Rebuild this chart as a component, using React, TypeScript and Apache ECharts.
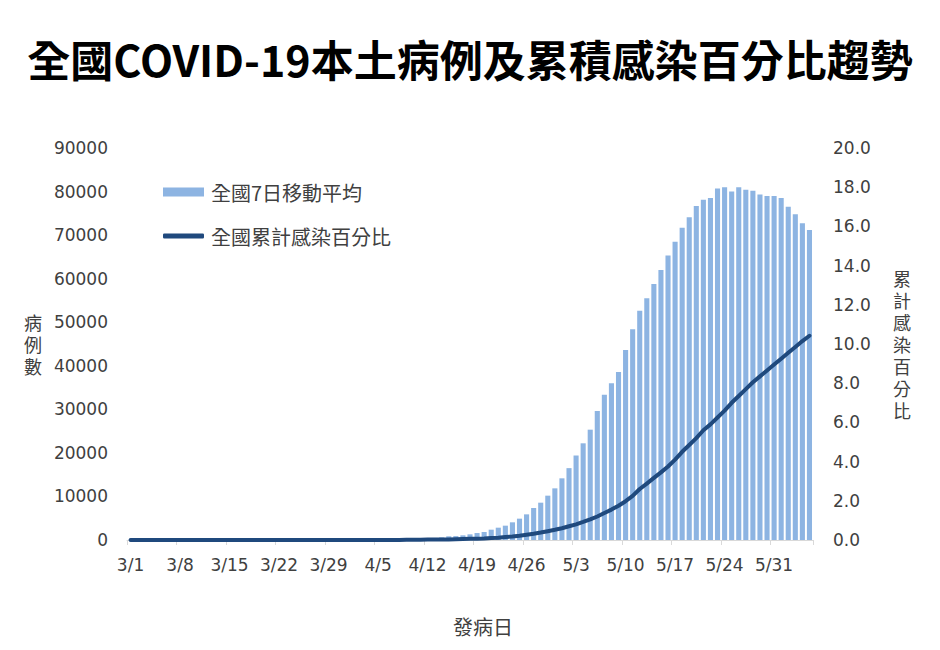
import React, { useEffect, useRef } from "react";
import * as echarts from "echarts";

const TITLE = "全國COVID-19本土病例及累積感染百分比趨勢";
const BAR_NAME = "全國7日移動平均";
const LINE_NAME = "全國累計感染百分比";
const LEFT_AXIS_NAME = "病\n例\n數";
const RIGHT_AXIS_NAME = "累\n計\n感\n染\n百\n分\n比";
const X_AXIS_NAME = "發病日";

const monthDays: [number, number][] = [
  [3, 31],
  [4, 30],
  [5, 31],
  [6, 5],
];
const dates: string[] = [];
monthDays.forEach(([m, n]) => {
  for (let d = 1; d <= n; d++) dates.push(`${m}/${d}`);
});

// 7-day moving average of domestic cases (3/1 .. 6/5)
const marchAvg = [
  10, 10, 12, 15, 15, 18, 20, 20, 22, 25, 25, 28, 30, 30, 32, 35, 35, 38, 40, 42,
  45, 45, 48, 50, 52, 55, 58, 60, 62, 65, 70,
];
const aprilAvg = [
  75, 80, 90, 100, 110, 130, 150, 180, 210, 250, 300, 380, 470, 600, 850, 900,
  1070, 1300, 1600, 1840, 2370, 2830, 3290, 4060, 4900, 5890, 7350, 8570, 10180,
  11860,
];
const mayAvg = [
  14160, 16500, 19400, 22200, 25330, 29620, 33370, 35970, 38600, 43620, 48370,
  52650, 55490, 58780, 62000, 65300, 68500, 71700, 74100, 76700, 78100, 78500,
  80700, 81000, 80000, 81000, 80400, 80200, 79300, 79000, 79000,
];
const juneAvg = [78500, 76500, 74800, 72700, 71200];
const movingAvg = [...marchAvg, ...aprilAvg, ...mayAvg, ...juneAvg];

// cumulative infection percentage
const marchPct = [
  0, 0, 0, 0, 0, 0, 0, 0, 0, 0, 0, 0, 0, 0, 0, 0, 0, 0, 0, 0, 0, 0, 0, 0, 0, 0,
  0, 0, 0, 0, 0,
];
const aprilPct = [
  0, 0, 0, 0, 0, 0, 0, 0, 0.01, 0.01, 0.01, 0.02, 0.02, 0.03, 0.03, 0.04, 0.05,
  0.06, 0.07, 0.08, 0.1, 0.12, 0.15, 0.18, 0.22, 0.27, 0.32, 0.38, 0.45, 0.52,
];
const mayPct = [
  0.6, 0.7, 0.8, 0.92, 1.05, 1.2, 1.38, 1.55, 1.75, 1.98, 2.25, 2.6, 2.88, 3.17,
  3.45, 3.75, 4.1, 4.5, 4.85, 5.2, 5.6, 5.9, 6.25, 6.6, 7.0, 7.35, 7.7, 8.05,
  8.35, 8.65, 8.95,
];
const junePct = [9.25, 9.55, 9.85, 10.15, 10.42];
const cumPct = [...marchPct, ...aprilPct, ...mayPct, ...junePct];

const leftMax = 90000;
const leftInterval = 10000;
const rightMax = 20;
const rightInterval = 2;

const NUM_FONT = "DejaVu Sans";
const CJK_FONT = "Noto Sans CJK TC";
const TEXT_COLOR = "#404040";
const BAR_COLOR = "#8DB4E2";
const LINE_COLOR = "#1F497D";

export default function App() {
  const ref = useRef<HTMLDivElement>(null);
  useEffect(() => {
    if (!ref.current) return;
    const chart = echarts.init(ref.current, undefined, { renderer: "svg" });
    chart.setOption({
      animation: false,
      backgroundColor: "#ffffff",
      title: {
        text: TITLE,
        left: "center",
        top: 31,
        textStyle: {
          fontSize: 43,
          fontWeight: "bold",
          fontFamily: CJK_FONT,
          color: "#000000",
        },
      },
      legend: [
        {
          data: [{ name: BAR_NAME, icon: "rect" }],
          left: 163,
          top: 182,
          padding: 0,
          itemWidth: 41,
          itemHeight: 9,
          itemGap: 8,
          textStyle: { fontSize: 20, fontFamily: CJK_FONT, color: TEXT_COLOR, padding: [0, 0, 0, 2] },
        },
        {
          data: [{ name: LINE_NAME, icon: "roundRect" }],
          left: 163,
          top: 226,
          padding: 0,
          itemWidth: 41,
          itemHeight: 5,
          textStyle: { fontSize: 20, fontFamily: CJK_FONT, color: TEXT_COLOR, padding: [0, 0, 0, 2] },
        },
      ],
      grid: { left: 127, right: 127, top: 148, bottom: 110 },
      xAxis: {
        type: "category",
        data: dates,
        boundaryGap: true,
        name: X_AXIS_NAME,
        nameLocation: "middle",
        nameGap: 86,
        nameTextStyle: {
          fontSize: 20,
          fontFamily: CJK_FONT,
          color: TEXT_COLOR,
          align: "center",
          verticalAlign: "middle",
          padding: [0, 0, 0, 26],
        },
        axisLine: { lineStyle: { color: "#d9d9d9", width: 1 } },
        axisTick: {
          show: true,
          interval: 6,
          length: 5,
          lineStyle: { color: "#d9d9d9" },
        },
        axisLabel: {
          interval: 6,
          margin: 16,
          fontSize: 17,
          fontFamily: NUM_FONT,
          color: TEXT_COLOR,
        },
        splitLine: { show: false },
      },
      yAxis: [
        {
          type: "value",
          min: 0,
          max: leftMax,
          interval: leftInterval,
          name: LEFT_AXIS_NAME,
          nameLocation: "middle",
          nameRotate: 0,
          nameGap: 94,
          nameTextStyle: {
            fontSize: 18,
            lineHeight: 22,
            fontFamily: CJK_FONT,
            color: TEXT_COLOR,
            align: "center",
            verticalAlign: "middle",
          },
          axisLine: { show: false },
          axisTick: { show: false },
          splitLine: { show: false },
          axisLabel: {
            margin: 19,
            fontSize: 17,
            fontFamily: NUM_FONT,
            color: TEXT_COLOR,
            formatter: (v: number) => String(v),
          },
        },
        {
          type: "value",
          min: 0,
          max: rightMax,
          interval: rightInterval,
          position: "right",
          name: RIGHT_AXIS_NAME,
          nameLocation: "middle",
          nameRotate: 0,
          nameGap: 89,
          nameTextStyle: {
            fontSize: 18,
            lineHeight: 22,
            fontFamily: CJK_FONT,
            color: TEXT_COLOR,
            align: "center",
            verticalAlign: "middle",
          },
          axisLine: { show: false },
          axisTick: { show: false },
          splitLine: { show: false },
          axisLabel: {
            margin: 20,
            fontSize: 17,
            fontFamily: NUM_FONT,
            color: TEXT_COLOR,
            formatter: (v: number) => v.toFixed(1),
          },
        },
      ],
      series: [
        {
          name: BAR_NAME,
          type: "bar",
          yAxisIndex: 0,
          data: movingAvg,
          barCategoryGap: "28%",
          itemStyle: { color: BAR_COLOR },
        },
        {
          name: LINE_NAME,
          type: "line",
          yAxisIndex: 1,
          data: cumPct,
          symbol: "none",
          smooth: false,
          itemStyle: { color: LINE_COLOR },
          lineStyle: { color: LINE_COLOR, width: 4, cap: "round", join: "round" },
        },
      ],
    });
    return () => chart.dispose();
  }, []);
  return (
    <div
      ref={ref}
      style={{ position: "fixed", left: 0, top: 0, width: 940, height: 650 }}
    />
  );
}
